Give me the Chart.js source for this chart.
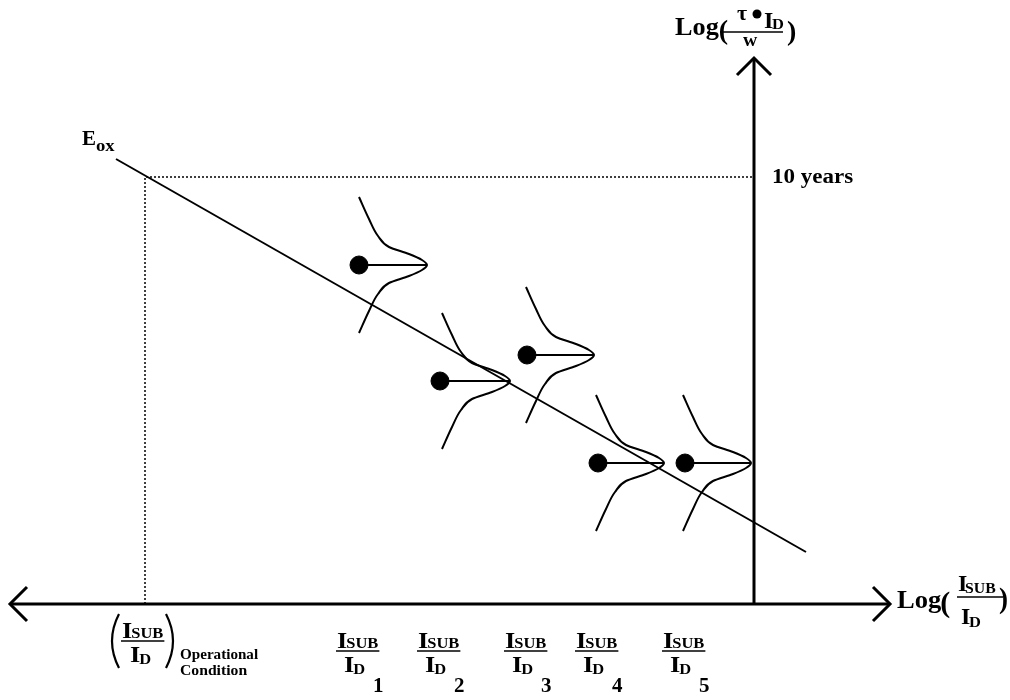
<!DOCTYPE html>
<html><head><meta charset="utf-8">
<script src="https://cdn.jsdelivr.net/npm/chart.js@4/dist/chart.umd.min.js"></script>
<style>html,body{margin:0;padding:0;background:#fff;}#wrap{width:1010px;height:700px;}</style>
</head><body><div id="wrap"><canvas id="c" width="1010" height="700"></canvas></div>
<script>
// Schematic units: x = Log(Isub/Id) (0 at the lifetime axis), y = Log(tau*Id/w) (0 at the Isub/Id axis)
const stressX = [-3.95, -3.14, -2.27, -1.56, -0.69];
const stressY = [3.39, 2.23, 2.49, 1.41, 1.41];
const peakX   = [-3.27, -2.44, -1.60, -0.90, -0.03];
const tickDigits = ['1', '2', '3', '4', '5'];
// lifetime distribution shape (offsets from the peak of each curve)
const distDY = [0.68, 0.46, 0.29, 0.18, 0.11, 0.05, 0, -0.05, -0.11, -0.18, -0.29, -0.46, -0.68];
const distDX = [-0.68, -0.58, -0.49, -0.38, -0.18, -0.05, 0, -0.05, -0.18, -0.38, -0.49, -0.58, -0.68];
const eoxX = [-6.38, 0.52];
const eoxY = [4.45, 0.52];
const operationalX = -6.09;
const tenYearsY = 4.27;
const xAxisEnds = [-7.44, 1.36];
const yAxisTop = 5.46;
const arrowArm = 0.17;

const pts = (xs, ys) => xs.map((x, i) => ({x, y: ys[i]}));
const datasets = [];
const lineDs = (data, w, extra) => Object.assign({type: 'line', data, borderColor: '#000', borderWidth: w,
  pointRadius: 0, fill: false, tension: 0, clip: false}, extra || {});

// axes
datasets.push(lineDs(pts(xAxisEnds, [0, 0]), 3));
datasets.push(lineDs(pts([0, 0], [0, yAxisTop]), 3));
// arrowheads
const a = arrowArm;
datasets.push(lineDs(pts([xAxisEnds[0] + a, xAxisEnds[0], xAxisEnds[0] + a], [a, 0, -a]), 3));
datasets.push(lineDs(pts([xAxisEnds[1] - a, xAxisEnds[1], xAxisEnds[1] - a], [a, 0, -a]), 3));
datasets.push(lineDs(pts([-a, 0, a], [yAxisTop - a, yAxisTop, yAxisTop - a]), 3));
// dotted guide (operational condition / 10 years)
datasets.push(lineDs(pts([operationalX, operationalX, 0], [0, tenYearsY, tenYearsY]), 1.5, {borderDash: [2, 2]}));
// Eox line
datasets.push(lineDs(pts(eoxX, eoxY), 2));
// distributions and stems
stressX.forEach((sx, i) => {
  const py = stressY[i];
  datasets.push(lineDs(distDX.map((dx, k) => ({x: peakX[i] + dx, y: py + distDY[k]})), 2,
    {indexAxis: 'y', cubicInterpolationMode: 'monotone'}));
  datasets.push(lineDs(pts([sx, peakX[i]], [py, py]), 1.8));
});
// stress points
datasets.push({type: 'scatter', data: pts(stressX, stressY), pointRadius: 9, pointBackgroundColor: '#000',
  pointBorderColor: '#000', showLine: false, clip: false});

const F = '"Liberation Serif", "Times New Roman", serif';
function t(ctx, s, x, y, size, sx) {
  ctx.save(); ctx.font = 'bold ' + size + 'px ' + F; ctx.translate(x, y); ctx.scale(sx || 1.1, 1);
  ctx.fillText(s, 0, 0); const w = ctx.measureText(s).width * (sx || 1.1); ctx.restore(); return w;
}
function bar(ctx, x1, x2, y) { ctx.save(); ctx.lineWidth = 1.6; ctx.beginPath(); ctx.moveTo(x1, y); ctx.lineTo(x2, y); ctx.stroke(); ctx.restore(); }
function isubFrac(ctx, left, barY, dLeft) {
  const w1 = t(ctx, 'I', left, barY - 3, 24);
  const w2 = t(ctx, 'SUB', left + w1 - 1, barY - 3, 15);
  bar(ctx, left - 1, left + w1 + w2, barY);
  const w3 = t(ctx, 'I', dLeft, barY + 21, 24);
  t(ctx, 'D', dLeft + w3 - 1, barY + 23, 15);
  return left + w1 + w2;
}

const textPlugin = {
  id: 'texts',
  afterDatasetsDraw(chart) {
    const ctx = chart.ctx, X = chart.scales.x, Y = chart.scales.y;
    ctx.fillStyle = '#000'; ctx.strokeStyle = '#000'; ctx.textBaseline = 'alphabetic';
    // E_ox
    const ex = X.getPixelForValue(eoxX[0]), ey = Y.getPixelForValue(eoxY[0]);
    const we = t(ctx, 'E', ex - 34, ey - 14, 20, 1.05);
    t(ctx, 'ox', ex - 34 + we, ey - 8, 17, 1.1);
    // 10 years
    t(ctx, '10 years', X.getPixelForValue(0) + 18, Y.getPixelForValue(tenYearsY) + 6, 20, 1.15);
    // Top axis title Log(tau.Id / w)
    const tx = X.getPixelForValue(0) - 79;
    let w = t(ctx, 'Log', tx, 35, 25, 1.05);
    t(ctx, '(', tx + w, 39, 28, 1.0);
    t(ctx, 'τ', tx + 62, 20, 20, 1.1);
    ctx.beginPath(); ctx.arc(tx + 82, 14, 4.5, 0, Math.PI * 2); ctx.fill();
    t(ctx, 'I', tx + 89, 28, 24, 1.0);
    t(ctx, 'D', tx + 97, 29, 15, 1.1);
    bar(ctx, tx + 45, tx + 108, 32);
    t(ctx, 'w', tx + 68, 46, 18, 1.1);
    t(ctx, ')', tx + 112, 40, 28, 1.0);
    // Right axis title Log(Isub/Id)
    const rx = X.getPixelForValue(xAxisEnds[1]) + 7, ry = Y.getPixelForValue(0);
    w = t(ctx, 'Log', rx, ry + 4, 26, 1.02);
    t(ctx, '(', rx + w - 1, ry + 8, 30, 1.0);
    t(ctx, 'I', rx + 61, ry - 13, 24, 1.0);
    t(ctx, 'SUB', rx + 68, ry - 11, 15, 1.05);
    bar(ctx, rx + 60, rx + 106, ry - 7);
    t(ctx, 'I', rx + 64, ry + 20, 24, 1.0);
    t(ctx, 'D', rx + 72, ry + 23, 15, 1.1);
    t(ctx, ')', rx + 102, ry + 4, 30, 0.9);
    // Operational condition label
    const ox = X.getPixelForValue(operationalX), oy = Y.getPixelForValue(0);
    isubFrac(ctx, ox - 23, oy + 37, ox - 15);
    ctx.save(); ctx.lineWidth = 2.2;
    ctx.beginPath(); ctx.moveTo(ox - 26, oy + 10); ctx.quadraticCurveTo(ox - 40, oy + 37, ox - 26, oy + 64); ctx.stroke();
    ctx.beginPath(); ctx.moveTo(ox + 21, oy + 10); ctx.quadraticCurveTo(ox + 35, oy + 37, ox + 21, oy + 64); ctx.stroke();
    ctx.restore();
    t(ctx, 'Operational', ox + 35, oy + 55, 14, 1.08);
    t(ctx, 'Condition', ox + 35, oy + 71, 14, 1.12);
    // stress condition labels
    stressX.forEach((sx, i) => {
      const cx = X.getPixelForValue(sx) - 3;
      isubFrac(ctx, cx - 19, oy + 47, cx - 12);
      t(ctx, tickDigits[i], cx + 17, oy + 88, 20, 1.05);
    });
  }
};

new Chart(document.getElementById('c'), {
  type: 'scatter',
  data: {datasets},
  options: {
    responsive: false, animation: false, events: [],
    layout: {padding: 0, autoPadding: false},
    plugins: {legend: {display: false}, tooltip: {enabled: false}, title: {display: false}},
    scales: {
      x: {type: 'linear', display: false, min: -7.54, max: 2.56},
      y: {type: 'linear', display: false, min: -0.96, max: 6.04}
    }
  },
  plugins: [textPlugin]
});
</script></body></html>
